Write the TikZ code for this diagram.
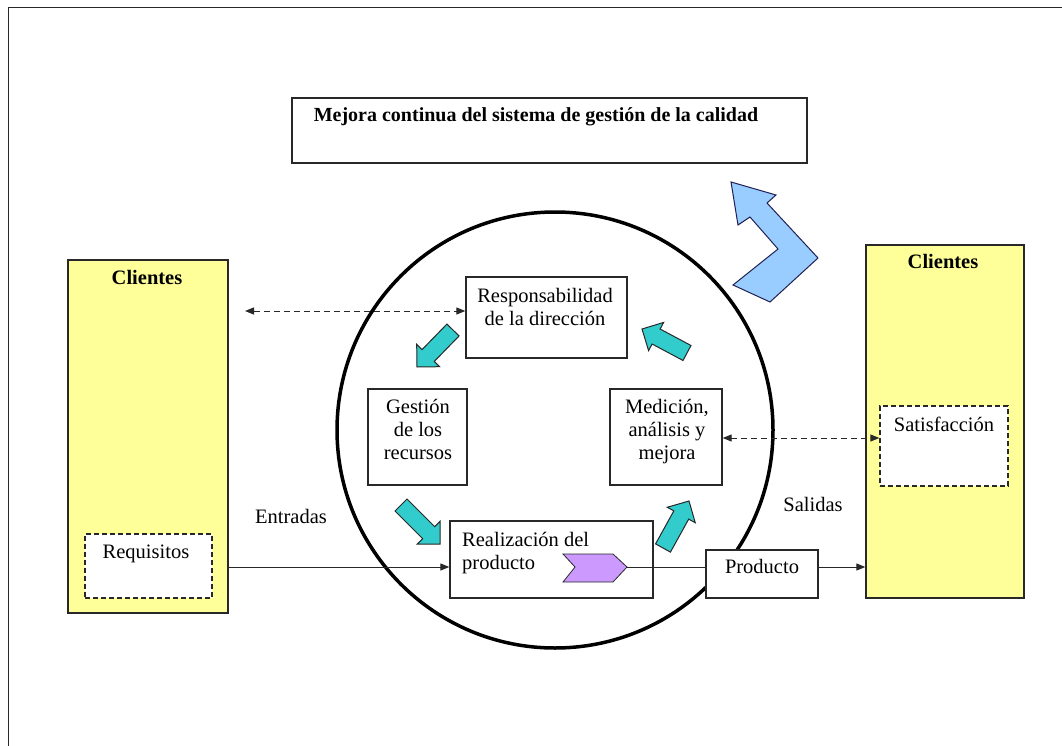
\documentclass[tikz,border=0pt]{standalone}
\usepackage{fontspec}
\setmainfont{Liberation Serif}
\usetikzlibrary{calc,arrows.meta}

\definecolor{clientyellow}{RGB}{255,255,153}
\definecolor{cycleteal}{RGB}{51,204,204}
\definecolor{improveblue}{RGB}{153,204,255}
\definecolor{chevronlilac}{RGB}{204,153,255}
\definecolor{edgegray}{RGB}{40,40,40}

\tikzset{
  box/.style={draw=edgegray, line width=1.3pt, fill=white, inner sep=0pt},
  clientbox/.style={box, fill=clientyellow},
  dashbox/.style={box, dash pattern=on 5pt off 3pt},
  txt/.style={font=\fontsize{20.5}{23}\selectfont, inner sep=0pt, align=center},
  heading/.style={font=\fontsize{20.5}{23}\selectfont\bfseries, inner sep=0pt},
  plainline/.style={draw=edgegray, line width=1pt},
  flow/.style={plainline, -{Triangle[length=9pt,width=7pt]}},
  link/.style={plainline, dash pattern=on 6pt off 4pt,
    {Triangle[length=9pt,width=7pt]}-{Triangle[length=9pt,width=7pt]}},
  blockarrow/.style={draw=edgegray, line width=1pt, fill=cycleteal, line join=miter},
  improvearrow/.style={draw=edgegray!80!blue, line width=1pt, fill=improveblue, line join=miter},
  chevron/.style={draw=edgegray, line width=0.8pt, fill=chevronlilac},
}

% block arrow from tail #2 to tip #3, named by prefix #1
\newcommand\cyclearrow[3]{%
  \coordinate (#1-t) at #2;
  \coordinate (#1-p) at #3;
  \coordinate (#1-h) at ($(#1-p)!16pt!(#1-t)$);
  \draw[blockarrow]
    ($(#1-t)!8.5pt!90:(#1-p)$) -- ($(#1-h)!8.5pt!-90:(#1-t)$) --
    ($(#1-h)!16pt!-90:(#1-t)$) -- (#1-p) --
    ($(#1-h)!16pt!90:(#1-t)$) -- ($(#1-h)!8.5pt!90:(#1-t)$) --
    ($(#1-t)!8.5pt!-90:(#1-p)$) -- cycle;
}

\begin{document}
\begin{tikzpicture}[x=1pt,y=-1pt]
\useasboundingbox (0,0) rectangle (1062,746);
\fill[white] (0,0) rectangle (1062,746);

% page frame
\draw[edgegray, line width=1.3pt] (8.5,746) -- (8.5,7.5) -- (1062,7.5);

% title
\node[box, minimum width=515pt, minimum height=65pt] (titlebox) at (549.5,130.5) {};
\node[heading, font=\fontsize{20}{23}\selectfont\bfseries, anchor=base] (title) at (536,122)
  {Mejora continua del sistema de gestión de la calidad};

% process cycle
\node[draw=black, circle, line width=3.5pt, minimum size=436pt, inner sep=0pt] (cycle) at (555,430) {};

% customers (input side)
\node[clientbox, minimum width=160pt, minimum height=353pt] (lclients) at (148,436.5) {};
\node[heading, anchor=base] (lclientslbl) at (147,284) {Clientes};
\node[dashbox, minimum width=127pt, minimum height=64pt] (requisitos) at (148.5,566) {};
\node[txt, anchor=base] (requisitoslbl) at (146,558) {Requisitos};

% customers (output side)
\node[clientbox, minimum width=158pt, minimum height=353pt] (rclients) at (945,421.5) {};
\node[heading, anchor=base] (rclientslbl) at (943,268) {Clientes};
\node[dashbox, minimum width=128pt, minimum height=80pt] (satisf) at (944,446) {};
\node[txt, anchor=base] (satisflbl) at (944,431) {Satisfacción};

% processes
\node[box, minimum width=161pt, minimum height=81pt] (resp) at (546.5,317.5) {};
\node[txt, anchor=north] (resplbl) at (545,285.9)
  {\strut Responsabilidad\\\strut de la dirección};

\node[box, minimum width=99pt, minimum height=96pt] (gestion) at (417.5,437) {};
\node[txt, anchor=north] (gestionlbl) at (418,396.9)
  {\strut Gestión\\\strut de los\\\strut recursos};

\node[box, minimum width=112pt, minimum height=96pt] (medicion) at (666,437) {};
\node[txt, anchor=north] (medicionlbl) at (667,396.9)
  {\strut Medición,\\\strut análisis y\\\strut mejora};

\node[box, minimum width=203pt, minimum height=77pt] (realiz) at (551.5,559.5) {};
\node[txt, align=left, anchor=north west] (realizlbl) at (462,529.9)
  {\strut Realización del\\\strut producto};

\node[box, minimum width=112pt, minimum height=48pt] (producto) at (762,574) {};
\node[txt, anchor=base] (productolbl) at (762,573) {Producto};

\node[txt, anchor=base] (entradas) at (291,523) {Entradas};
\node[txt, anchor=base] (salidas) at (813,511) {Salidas};

% product marker
\coordinate (chevtip) at (627,567);
\draw[chevron] (563,554) -- (613,554) -- (chevtip) -- (613,582) -- (563,582) -- (575,567) -- cycle;

% main flow
\coordinate (flowrow) at (0,567);
\draw[flow] (lclients.east |- flowrow) -- (realiz.west |- flowrow);
\draw[plainline] (chevtip) -- (producto.west |- flowrow);
\draw[flow] (producto.east |- flowrow) -- (rclients.west |- flowrow);

% information links
\coordinate (respfree) at (245,311);
\draw[link] (respfree) -- (resp.west |- respfree);
\coordinate (satrow) at (0,438);
\draw[link] (medicion.east |- satrow) -- (satisf.west |- satrow);

% cycle arrows
\cyclearrow{a1}{(453,330)}{(417,367)}
\cyclearrow{a2}{(687,353)}{(642,329)}
\cyclearrow{a3}{(401,505)}{(440,544)}
\cyclearrow{a4}{(663,548)}{(689,501)}

% continual improvement arrow
\draw[improvearrow] (731,182) -- (776,195) -- (767,203) -- (818,258) -- (770,302)
  -- (733,285) -- (778,249) -- (750,217) -- (738,225) -- cycle;
\end{tikzpicture}
\end{document}
